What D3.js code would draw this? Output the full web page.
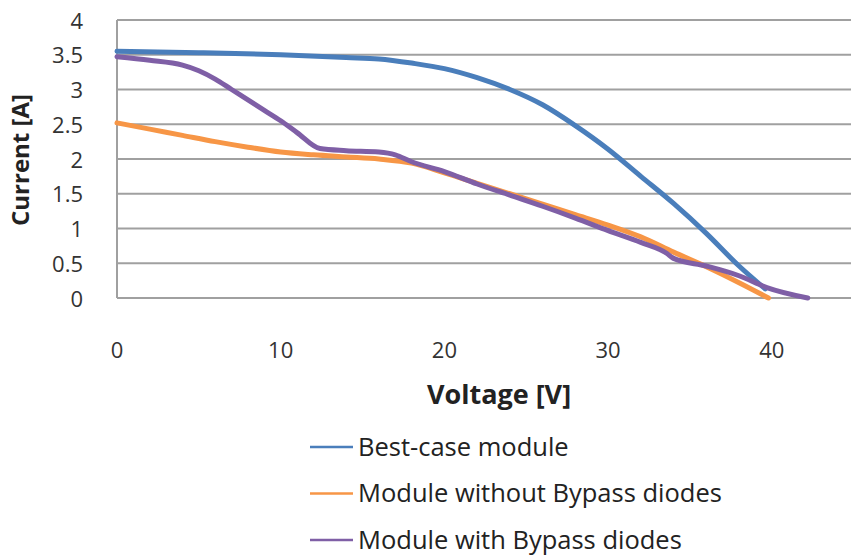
<!DOCTYPE html>
<html><head><meta charset="utf-8">
<script src="https://cdn.jsdelivr.net/npm/d3@7"></script>
<style>body{margin:0;background:#fff}svg{display:block}</style>
</head><body><svg id="c" width="851" height="558"></svg>
<script>
const yTicks = [0, 0.5, 1, 1.5, 2, 2.5, 3, 3.5, 4];
const xTicks = [0, 10, 20, 30, 40];
const seriesNames = ["Best-case module", "Module without Bypass diodes", "Module with Bypass diodes"];
const seriesColors = ["#4a7ebb", "#f79646", "#7f5fa6"];
const bestCase = [[0,3.55],[5,3.53],[10,3.50],[14,3.46],[16,3.44],[18,3.38],[20,3.30],[22,3.17],[24,3.00],[26,2.78],[28,2.48],[30,2.14],[32,1.75],[34,1.36],[36,0.93],[38,0.46],[39.6,0.13]];
const withoutBypass = [[0,2.52],[2,2.43],[4,2.34],[6,2.25],[8,2.17],[10,2.10],[12,2.06],[14,2.03],[16,2.00],[18,1.94],[20,1.80],[22,1.65],[24,1.50],[26,1.35],[28,1.20],[30,1.05],[32,0.88],[34,0.66],[36,0.45],[38,0.22],[39.8,0.0]];
const withBypass = [[0,3.47],[2,3.42],[4,3.35],[5,3.27],[6,3.15],[7,3.00],[8,2.85],[9,2.70],[10,2.55],[11,2.38],[12.4,2.15],[14,2.12],[16,2.10],[17,2.06],[18,1.96],[20,1.82],[22,1.64],[24,1.48],[26,1.32],[28,1.15],[30,0.97],[32,0.80],[33.6,0.64],[34,0.57],[36,0.46],[38,0.32],[39.7,0.15],[42.2,0.0]];
const allSeries = [bestCase, withoutBypass, withBypass];

const svg = d3.select("#c");
const L = 117, R = 851, T = 20, B = 298;
const x = d3.scaleLinear().domain([0, 44.84]).range([L, R]);
const y = d3.scaleLinear().domain([0, 4]).range([B, T]);
const font = "'Open Sans', sans-serif";

// gridlines
svg.append("g").selectAll("line").data(yTicks).join("line")
  .attr("x1", L).attr("x2", R).attr("y1", d => y(d)).attr("y2", d => y(d))
  .attr("stroke", "#a0a0a0").attr("stroke-width", 2);
svg.append("line").attr("x1", L).attr("x2", L).attr("y1", T).attr("y2", B)
  .attr("stroke", "#a0a0a0").attr("stroke-width", 2);

// y tick labels
svg.append("g").selectAll("text").data(yTicks).join("text")
  .attr("x", 83).attr("y", d => y(d) + 1).attr("dy", "0.35em")
  .attr("text-anchor", "end").attr("font-family", font).attr("font-size", 22)
  .attr("fill", "#333").text(d => d);

// x tick labels
svg.append("g").selectAll("text").data(xTicks).join("text")
  .attr("x", d => x(d)).attr("y", 350).attr("dy", "0.35em")
  .attr("text-anchor", "middle").attr("font-family", font).attr("font-size", 22)
  .attr("fill", "#333").text(d => d);

// axis titles
svg.append("text").attr("transform", "translate(21,160) rotate(-90)")
  .attr("dy", "0.35em")
  .attr("text-anchor", "middle").attr("font-family", font).attr("font-size", 24)
  .attr("font-weight", "bold").attr("fill", "#222").text("Current [A]");
svg.append("text").attr("x", 499).attr("y", 395).attr("dy", "0.35em")
  .attr("text-anchor", "middle").attr("font-family", font).attr("font-size", 27)
  .attr("font-weight", "bold").attr("fill", "#222").text("Voltage [V]");

// lines
const line = d3.line().x(d => x(d[0])).y(d => y(d[1])).curve(d3.curveMonotoneX);
svg.append("g").selectAll("path").data(allSeries).join("path")
  .attr("d", line).attr("fill", "none")
  .attr("stroke", (d, i) => seriesColors[i]).attr("stroke-width", 5)
  .attr("stroke-linecap", "round").attr("stroke-linejoin", "round");

// legend
const lg = svg.append("g").selectAll("g").data(seriesNames).join("g")
  .attr("transform", (d, i) => `translate(310,${447 + i * 46.5})`);
lg.append("line").attr("x1", 0).attr("x2", 43).attr("y1", 0).attr("y2", 0)
  .attr("stroke", (d, i) => seriesColors[i]).attr("stroke-width", 2.5);
lg.append("text").attr("x", 48).attr("y", 0).attr("dy", "0.35em")
  .attr("font-family", font).attr("font-size", 25.5).attr("fill", "#222").text(d => d);
</script></body></html>
